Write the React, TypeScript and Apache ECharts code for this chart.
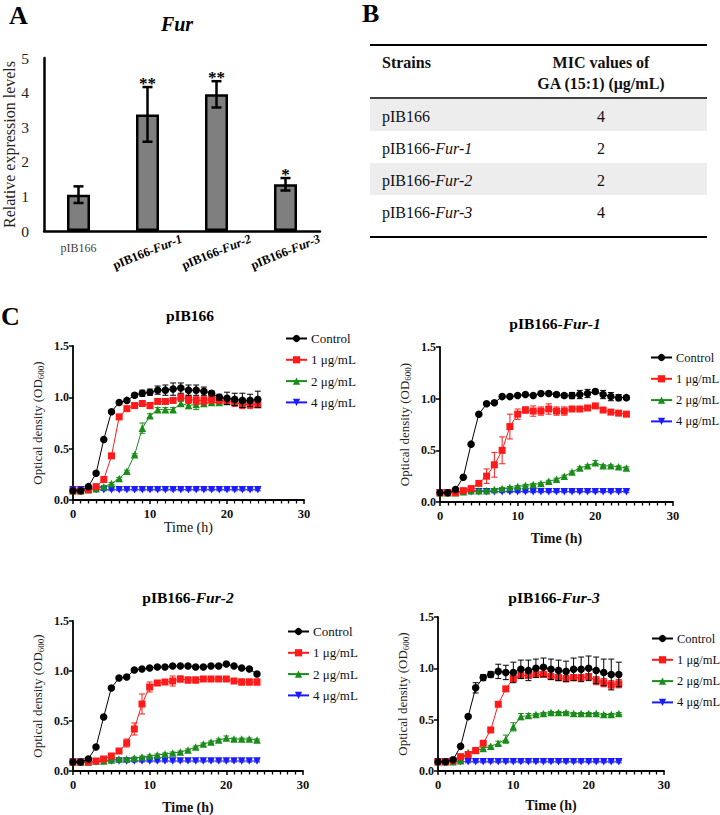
import React, { useEffect, useRef } from "react";
import * as echarts from "echarts";

// ---------------- Panel A data ----------------
const barCategories = ["pIB166", "pIB166-Fur-1", "pIB166-Fur-2", "pIB166-Fur-3"];
const barValues = [1.05, 3.37, 3.95, 1.35];
const barErrors = [0.24, 0.79, 0.38, 0.18];
const barStars = ["", "**", "**", "*"];
const barYTicks = [0, 5, 1];

// ---------------- Panel B data ----------------
const tableStrains = ["pIB166", "pIB166-Fur-1", "pIB166-Fur-2", "pIB166-Fur-3"];
const tableMIC = ["4", "2", "2", "4"];

// ---------------- Panel C data ----------------
const seriesNames = ["Control", "1 μg/mL", "2 μg/mL", "4 μg/mL"];
const time = [0, 1, 2, 3, 4, 5, 6, 7, 8, 9, 10, 11, 12, 13, 14, 15, 16, 17, 18, 19, 20, 21, 22, 23, 24];

const pIB166_ctrl = [0.09, 0.09, 0.13, 0.26, 0.59, 0.86, 0.95, 0.97, 1.02, 1.04, 1.05, 1.07, 1.07, 1.08, 1.09, 1.07, 1.07, 1.06, 1.04, 1.0, 0.99, 0.98, 0.97, 0.97, 0.98];
const pIB166_ctrlErr = [0.01, 0.01, 0.01, 0.01, 0.01, 0.01, 0.01, 0.01, 0.02, 0.03, 0.03, 0.04, 0.05, 0.06, 0.05, 0.05, 0.05, 0.04, 0.02, 0.03, 0.06, 0.06, 0.07, 0.06, 0.08];
const pIB166_1 = [0.09, 0.09, 0.1, 0.13, 0.2, 0.43, 0.81, 0.89, 0.92, 0.94, 0.92, 0.96, 0.96, 0.97, 1.0, 0.98, 0.97, 0.97, 0.98, 0.97, 0.96, 0.95, 0.93, 0.93, 0.93];
const pIB166_1Err = [0.01, 0.01, 0.01, 0.01, 0.01, 0.01, 0.01, 0.01, 0.02, 0.02, 0.03, 0.02, 0.02, 0.02, 0.03, 0.04, 0.04, 0.04, 0.04, 0.03, 0.03, 0.04, 0.04, 0.04, 0.03];
const pIB166_2 = [0.09, 0.09, 0.1, 0.11, 0.13, 0.16, 0.21, 0.28, 0.44, 0.7, 0.82, 0.88, 0.88, 0.88, 0.94, 0.92, 0.93, 0.94, 0.95, 0.95, 0.96, 0.96, 0.95, 0.94, 0.93];
const pIB166_2Err = [0.01, 0.01, 0.01, 0.01, 0.01, 0.01, 0.01, 0.01, 0.01, 0.05, 0.02, 0.02, 0.02, 0.02, 0.02, 0.03, 0.05, 0.03, 0.02, 0.02, 0.02, 0.02, 0.02, 0.02, 0.02];
const pIB166_4 = [0.1, 0.1, 0.1, 0.1, 0.1, 0.1, 0.1, 0.1, 0.1, 0.1, 0.1, 0.1, 0.1, 0.1, 0.1, 0.1, 0.1, 0.1, 0.1, 0.1, 0.1, 0.1, 0.1, 0.1, 0.1];
const pIB166_4Err = [0.01, 0.01, 0.01, 0.01, 0.01, 0.01, 0.01, 0.01, 0.01, 0.01, 0.01, 0.01, 0.01, 0.01, 0.01, 0.01, 0.01, 0.01, 0.01, 0.01, 0.01, 0.01, 0.01, 0.01, 0.01];

const fur1_ctrl = [0.09, 0.09, 0.12, 0.24, 0.56, 0.85, 0.95, 0.96, 1.02, 1.02, 1.03, 1.04, 1.03, 1.05, 1.05, 1.04, 1.03, 1.03, 1.04, 1.05, 1.07, 1.04, 1.02, 1.01, 1.01];
const fur1_ctrlErr = [0.01, 0.01, 0.01, 0.01, 0.01, 0.01, 0.01, 0.01, 0.01, 0.01, 0.01, 0.01, 0.01, 0.01, 0.01, 0.02, 0.02, 0.03, 0.04, 0.04, 0.02, 0.04, 0.04, 0.03, 0.02];
const fur1_1 = [0.09, 0.09, 0.09, 0.11, 0.13, 0.18, 0.25, 0.36, 0.5, 0.73, 0.85, 0.89, 0.88, 0.88, 0.9, 0.88, 0.88, 0.9, 0.9, 0.91, 0.93, 0.89, 0.87, 0.86, 0.85];
const fur1_1Err = [0.01, 0.01, 0.01, 0.01, 0.01, 0.01, 0.07, 0.12, 0.13, 0.12, 0.05, 0.03, 0.05, 0.04, 0.05, 0.04, 0.04, 0.01, 0.01, 0.01, 0.01, 0.01, 0.01, 0.01, 0.01];
const fur1_2 = [0.09, 0.09, 0.09, 0.1, 0.11, 0.11, 0.11, 0.12, 0.13, 0.14, 0.15, 0.16, 0.17, 0.18, 0.2, 0.22, 0.25, 0.29, 0.33, 0.35, 0.38, 0.35, 0.35, 0.34, 0.33];
const fur1_2Err = [0.01, 0.01, 0.01, 0.01, 0.01, 0.01, 0.01, 0.01, 0.01, 0.01, 0.01, 0.01, 0.01, 0.01, 0.01, 0.01, 0.01, 0.01, 0.01, 0.01, 0.02, 0.01, 0.01, 0.01, 0.01];
const fur1_4 = [0.09, 0.09, 0.1, 0.1, 0.1, 0.1, 0.1, 0.1, 0.1, 0.1, 0.1, 0.1, 0.1, 0.1, 0.1, 0.1, 0.1, 0.1, 0.1, 0.1, 0.1, 0.1, 0.1, 0.1, 0.1];
const fur1_4Err = [0.01, 0.01, 0.01, 0.01, 0.01, 0.01, 0.01, 0.01, 0.01, 0.01, 0.01, 0.01, 0.01, 0.01, 0.01, 0.01, 0.01, 0.01, 0.01, 0.01, 0.01, 0.01, 0.01, 0.01, 0.01];

const fur2_ctrl = [0.09, 0.09, 0.12, 0.24, 0.54, 0.83, 0.93, 0.94, 1.01, 1.02, 1.03, 1.04, 1.04, 1.05, 1.05, 1.05, 1.04, 1.04, 1.05, 1.05, 1.07, 1.05, 1.03, 1.02, 0.97];
const fur2_ctrlErr = [0.01, 0.01, 0.01, 0.01, 0.01, 0.01, 0.01, 0.01, 0.01, 0.01, 0.01, 0.01, 0.01, 0.01, 0.01, 0.01, 0.01, 0.01, 0.01, 0.01, 0.01, 0.01, 0.01, 0.01, 0.01];
const fur2_1 = [0.09, 0.09, 0.09, 0.1, 0.12, 0.15, 0.2, 0.28, 0.42, 0.67, 0.84, 0.88, 0.89, 0.9, 0.92, 0.91, 0.91, 0.92, 0.92, 0.92, 0.92, 0.9, 0.89, 0.89, 0.89];
const fur2_1Err = [0.01, 0.01, 0.01, 0.01, 0.01, 0.01, 0.01, 0.04, 0.06, 0.1, 0.05, 0.02, 0.02, 0.05, 0.03, 0.03, 0.03, 0.02, 0.02, 0.02, 0.02, 0.02, 0.03, 0.03, 0.03];
const fur2_2 = [0.09, 0.09, 0.09, 0.1, 0.1, 0.11, 0.12, 0.12, 0.13, 0.14, 0.15, 0.16, 0.17, 0.18, 0.19, 0.21, 0.24, 0.27, 0.29, 0.31, 0.33, 0.32, 0.32, 0.32, 0.31];
const fur2_2Err = [0.01, 0.01, 0.01, 0.01, 0.01, 0.01, 0.01, 0.01, 0.01, 0.01, 0.01, 0.01, 0.01, 0.01, 0.01, 0.01, 0.01, 0.01, 0.01, 0.01, 0.02, 0.01, 0.01, 0.01, 0.01];
const fur2_4 = [0.09, 0.09, 0.09, 0.09, 0.1, 0.1, 0.1, 0.1, 0.1, 0.1, 0.1, 0.1, 0.1, 0.1, 0.1, 0.1, 0.1, 0.1, 0.1, 0.1, 0.1, 0.1, 0.1, 0.1, 0.1];
const fur2_4Err = [0.01, 0.01, 0.01, 0.01, 0.01, 0.01, 0.01, 0.01, 0.01, 0.01, 0.01, 0.01, 0.01, 0.01, 0.01, 0.01, 0.01, 0.01, 0.01, 0.01, 0.01, 0.01, 0.01, 0.01, 0.01];

const fur3_ctrl = [0.09, 0.09, 0.11, 0.24, 0.53, 0.81, 0.91, 0.94, 0.97, 0.96, 0.96, 0.99, 0.98, 1.0, 1.01, 0.99, 0.98, 0.97, 0.99, 0.99, 1.0, 0.98, 0.96, 0.94, 0.94];
const fur3_ctrlErr = [0.01, 0.01, 0.01, 0.01, 0.01, 0.05, 0.03, 0.03, 0.07, 0.07, 0.1, 0.09, 0.1, 0.09, 0.09, 0.1, 0.1, 0.1, 0.11, 0.12, 0.12, 0.13, 0.13, 0.15, 0.12];
const fur3_1 = [0.09, 0.09, 0.1, 0.14, 0.16, 0.2, 0.27, 0.4, 0.65, 0.8, 0.9, 0.93, 0.93, 0.94, 0.94, 0.92, 0.91, 0.9, 0.91, 0.91, 0.92, 0.88, 0.86, 0.84, 0.85];
const fur3_1Err = [0.01, 0.01, 0.01, 0.01, 0.01, 0.01, 0.01, 0.01, 0.01, 0.02, 0.03, 0.02, 0.02, 0.02, 0.02, 0.02, 0.03, 0.03, 0.03, 0.03, 0.03, 0.04, 0.04, 0.04, 0.04];
const fur3_2 = [0.09, 0.09, 0.09, 0.1, 0.18, 0.2, 0.22, 0.24, 0.27, 0.31, 0.43, 0.53, 0.54, 0.55, 0.56, 0.57, 0.57, 0.57, 0.56, 0.56, 0.56, 0.56, 0.55, 0.55, 0.56];
const fur3_2Err = [0.01, 0.01, 0.01, 0.01, 0.01, 0.01, 0.01, 0.01, 0.02, 0.04, 0.04, 0.03, 0.02, 0.01, 0.01, 0.01, 0.01, 0.01, 0.01, 0.01, 0.01, 0.01, 0.01, 0.01, 0.01];
const fur3_4 = [0.09, 0.09, 0.09, 0.09, 0.09, 0.09, 0.09, 0.09, 0.09, 0.09, 0.09, 0.09, 0.09, 0.09, 0.09, 0.09, 0.09, 0.09, 0.09, 0.09, 0.09, 0.09, 0.09, 0.09, 0.09];
const fur3_4Err = [0.01, 0.01, 0.01, 0.01, 0.01, 0.01, 0.01, 0.01, 0.01, 0.01, 0.01, 0.01, 0.01, 0.01, 0.01, 0.01, 0.01, 0.01, 0.01, 0.01, 0.01, 0.01, 0.01, 0.01, 0.01];

const growthXTicks = [0, 30, 10];
const growthYTicks = [0, 1.5, 0.5];

// ---------------- styles / layout ----------------
const FF = "Liberation Serif";
const FONT = "Liberation Serif";
const COLORS = ["#000000", "#ff1a1a", "#1a8c1a", "#1a1aff"];
const SYMBOLS = ["circle", "rect", "triangle", "triangle"];
const SYMROT = [0, 0, 0, 180];
const SYMSIZE = [7.5, 7, 7.5, 7.5];

const panels = [
  {
    title: "{b|pIB166}",
    grid: { left: 73, top: 346, width: 231, height: 154 },
    titlePos: [190, 315],
    legend: { left: 285, top: 332, fontSize: 13 },
    xNameBold: false,
    xNameGap: 17,
    data: [
      [pIB166_ctrl, pIB166_ctrlErr],
      [pIB166_1, pIB166_1Err],
      [pIB166_2, pIB166_2Err],
      [pIB166_4, pIB166_4Err],
    ],
  },
  {
    title: "{b|pIB166-}{bi|Fur-1}",
    grid: { left: 440, top: 347, width: 233, height: 155 },
    titlePos: [555, 323],
    legend: { left: 650, top: 351, fontSize: 12.5 },
    xNameBold: true,
    xNameGap: 29,
    data: [
      [fur1_ctrl, fur1_ctrlErr],
      [fur1_1, fur1_1Err],
      [fur1_2, fur1_2Err],
      [fur1_4, fur1_4Err],
    ],
  },
  {
    title: "{b|pIB166-}{bi|Fur-2}",
    grid: { left: 73, top: 621, width: 230, height: 152 },
    titlePos: [188, 597],
    legend: { left: 287, top: 625, fontSize: 13 },
    xNameBold: true,
    xNameGap: 29,
    data: [
      [fur2_ctrl, fur2_ctrlErr],
      [fur2_1, fur2_1Err],
      [fur2_2, fur2_2Err],
      [fur2_4, fur2_4Err],
    ],
  },
  {
    title: "{b|pIB166-}{bi|Fur-3}",
    grid: { left: 438, top: 617, width: 226, height: 154 },
    titlePos: [554, 597],
    legend: { left: 651, top: 632, fontSize: 12.5 },
    xNameBold: true,
    xNameGap: 27,
    data: [
      [fur3_ctrl, fur3_ctrlErr],
      [fur3_1, fur3_1Err],
      [fur3_2, fur3_2Err],
      [fur3_4, fur3_4Err],
    ],
  },
];

function errorBarRender(capHalf: number, lw: number, color: string, stars?: string[]) {
  return (params: any, api: any) => {
    const x = api.value(0);
    const y = api.value(1);
    const e = api.value(2);
    const top = api.coord([x, y + e]);
    const bot = api.coord([x, y - e]);
    const st = { stroke: color, lineWidth: lw };
    const children: any[] = [
      { type: "line", shape: { x1: top[0], y1: top[1], x2: bot[0], y2: bot[1] }, style: st },
      { type: "line", shape: { x1: top[0] - capHalf, y1: top[1], x2: top[0] + capHalf, y2: top[1] }, style: st },
      { type: "line", shape: { x1: bot[0] - capHalf, y1: bot[1], x2: bot[0] + capHalf, y2: bot[1] }, style: st },
    ];
    if (stars && stars[params.dataIndex]) {
      children.push({
        type: "text",
        style: {
          text: stars[params.dataIndex],
          x: top[0],
          y: top[1] - 4,
          align: "center",
          verticalAlign: "middle",
          textAlign: "center",
          textVerticalAlign: "middle",
          font: `bold 17px ${FONT}`,
          fill: "#000",
        },
      });
    }
    return { type: "group", children };
  };
}

function buildOption() {
  const grid: any[] = [{ left: 44, top: 58, width: 276, height: 173 }];
  const xAxis: any[] = [
    {
      type: "category",
      gridIndex: 0,
      data: barCategories,
      axisLine: { lineStyle: { color: "#000", width: 2.5 } },
      axisTick: { show: false },
      axisLabel: {
        margin: 11,
        fontFamily: FF,
        fontSize: 12,
        color: "#404040",
        formatter: (v: string, i: number) => (i === 0 ? v : ""),
      },
    },
    {
      type: "category",
      gridIndex: 0,
      position: "bottom",
      data: barCategories,
      axisLine: { show: false },
      axisTick: { show: false },
      axisLabel: {
        margin: 21,
        rotate: 22,
        align: "center",
        verticalAlign: "middle",
        interval: 0,
        formatter: (v: string, i: number) => {
          if (i === 0) return "";
          const parts = v.split("-");
          return `{b|${parts[0]}-}{bi|${parts.slice(1).join("-")}}`;
        },
        rich: {
          b: { fontFamily: FF, fontSize: 12.5, fontWeight: "bold", color: "#000" },
          bi: { fontFamily: FF, fontSize: 12.5, fontWeight: "bold", fontStyle: "italic", color: "#000" },
        },
      },
    },
  ];
  const yAxis: any[] = [
    {
      type: "value",
      gridIndex: 0,
      min: barYTicks[0],
      max: barYTicks[1],
      interval: barYTicks[2],
      name: "Relative expression levels",
      nameLocation: "middle",
      nameGap: 25,
      nameTextStyle: { fontFamily: FF, fontSize: 16, color: "#222" },
      axisLine: { show: true, lineStyle: { color: "#000", width: 2.5 } },
      axisTick: { show: false },
      splitLine: { show: false },
      axisLabel: { margin: 15, fontFamily: FF, fontSize: 15.5, color: "#222" },
    },
  ];
  const series: any[] = [
    {
      type: "bar",
      xAxisIndex: 0,
      yAxisIndex: 0,
      data: barValues,
      barWidth: 23,
      silent: true,
      itemStyle: { color: "#7f7f7f", borderColor: "#000", borderWidth: 2.5 },
      z: 2,
    },
    {
      type: "custom",
      xAxisIndex: 0,
      yAxisIndex: 0,
      silent: true,
      z: 5,
      data: barValues.map((v, i) => [i, v, barErrors[i]]),
      renderItem: errorBarRender(5, 2.5, "#000", barStars),
    },
  ];
  const legend: any[] = [];
  const graphic: any[] = [];

  panels.forEach((p, pi) => {
    const gi = pi + 1;
    grid.push(p.grid);
    xAxis.push({
      type: "value",
      gridIndex: gi,
      min: growthXTicks[0],
      max: growthXTicks[1],
      interval: growthXTicks[2],
      name: "Time (h)",
      nameLocation: "middle",
      nameGap: p.xNameGap,
      nameTextStyle: {
        fontFamily: FF,
        fontSize: 14,
        fontWeight: p.xNameBold ? "bold" : "normal",
        color: "#111",
      },
      axisLine: { show: true, onZero: false, lineStyle: { color: "#000", width: 1.8 } },
      axisTick: { show: true, length: 4, lineStyle: { color: "#000", width: 1.5 } },
      minorTick: { show: true, splitNumber: 10, length: 3.5, lineStyle: { color: "#000", width: 1.3 } },
      splitLine: { show: false },
      axisLabel: { margin: 7, fontFamily: FF, fontSize: 12.5, fontWeight: "bold", color: "#111" },
    });
    yAxis.push({
      type: "value",
      gridIndex: gi,
      min: growthYTicks[0],
      max: growthYTicks[1],
      interval: growthYTicks[2],
      name: "Optical density (OD{s|600})",
      nameLocation: "middle",
      nameGap: 28,
      nameTextStyle: {
        fontFamily: FF,
        fontSize: 13,
        color: "#222",
        lineHeight: 16,
        rich: {
          s: { fontFamily: FF, fontSize: 9, lineHeight: 8, verticalAlign: "bottom", color: "#222" },
        },
      },
      axisLine: { show: true, onZero: false, lineStyle: { color: "#000", width: 1.8 } },
      axisTick: { show: true, length: 4, lineStyle: { color: "#000", width: 1.5 } },
      splitLine: { show: false },
      axisLabel: {
        margin: 4,
        fontFamily: FF,
        fontSize: 12,
        fontWeight: "bold",
        color: "#111",
        formatter: (v: number) => v.toFixed(1),
      },
    });
    const axIdx = pi + 2;
    const yIdx = pi + 1;
    // draw order: 4, 2, 1, Control (control on top)
    [3, 2, 1, 0].forEach((si) => {
      const [vals, errs] = p.data[si];
      series.push({
        type: "custom",
        xAxisIndex: axIdx,
        yAxisIndex: yIdx,
        silent: true,
        z: 2 + (3 - si) * 2,
        data: time.map((t, i) => [t, vals[i], errs[i]]),
        renderItem: errorBarRender(3, 1, COLORS[si]),
      });
      series.push({
        type: "line",
        name: seriesNames[si],
        xAxisIndex: axIdx,
        yAxisIndex: yIdx,
        data: time.map((t, i) => [t, vals[i]]),
        symbol: SYMBOLS[si],
        symbolRotate: SYMROT[si],
        symbolSize: SYMSIZE[si],
        showSymbol: true,
        silent: true,
        z: 3 + (3 - si) * 2,
        lineStyle: { color: COLORS[si], width: 1 },
        itemStyle: { color: COLORS[si] },
        emphasis: { disabled: true },
      });
    });
    legend.push({
      orient: "vertical",
      left: p.legend.left,
      top: p.legend.top,
      padding: 0,
      itemWidth: 21,
      itemHeight: 9,
      itemGap: 8.3,
      selectedMode: false,
      data: seriesNames,
      textStyle: { fontFamily: FF, fontSize: p.legend.fontSize, color: "#111", padding: [0, 0, 0, -1] },
    });
    graphic.push({
      type: "text",
      x: p.titlePos[0],
      y: p.titlePos[1],
      style: {
        text: p.title,
        align: "center",
        verticalAlign: "middle",
        textAlign: "center",
        textVerticalAlign: "middle",
        rich: {
          b: { fontFamily: FF, fontSize: 15.5, fontWeight: "bold", fill: "#000" },
          bi: { fontFamily: FF, fontSize: 15.5, fontWeight: "bold", fontStyle: "italic", fill: "#000" },
        },
      },
    });
  });

  // Panel letters and A title
  const letter = (t: string, x: number, y: number) => ({
    type: "text",
    x,
    y,
    style: { text: t, font: `bold 26px ${FONT}`, fill: "#000", align: "left", verticalAlign: "top" },
  });
  graphic.push(letter("A", 9, 2));
  graphic.push(letter("B", 362, 0));
  graphic.push(letter("C", 1, 303));
  graphic.push({
    type: "text",
    x: 177,
    y: 24,
    style: {
      text: "Fur",
      font: `italic bold 20px ${FONT}`,
      fill: "#000",
      align: "center",
      verticalAlign: "middle",
    },
  });

  // Panel B table
  const tl = 370;
  const tr = 707;
  const rowTop = [99, 131, 163, 195];
  const rowH = 32;
  rowTop.forEach((y, i) => {
    if (i % 2 === 0) {
      graphic.push({ type: "rect", shape: { x: tl, y, width: tr - tl, height: rowH }, style: { fill: "#ededed" } });
    }
  });
  graphic.push({ type: "line", shape: { x1: tl, y1: 45, x2: tr, y2: 45 }, style: { stroke: "#000", lineWidth: 2.2 } });
  graphic.push({ type: "line", shape: { x1: tl, y1: 98, x2: tr, y2: 98 }, style: { stroke: "#000", lineWidth: 1.6 } });
  graphic.push({ type: "line", shape: { x1: tl, y1: 237, x2: tr, y2: 237 }, style: { stroke: "#000", lineWidth: 2.2 } });
  const hdr = (t: string, x: number, y: number, align: string) => ({
    type: "text",
    x,
    y,
    style: { text: t, font: `bold 16px ${FONT}`, fill: "#111", align, verticalAlign: "middle" },
  });
  graphic.push(hdr("Strains", 382, 62, "left"));
  graphic.push(hdr("MIC values of", 601, 62, "center"));
  graphic.push(hdr("GA (15:1) (μg/mL)", 601, 83, "center"));
  tableStrains.forEach((s, i) => {
    const y = rowTop[i] + rowH / 2 + 1;
    const parts = s.split("-");
    const txt = parts.length > 1 ? `{n|${parts[0]}-}{i|${parts.slice(1).join("-")}}` : `{n|${s}}`;
    graphic.push({
      type: "text",
      x: 382,
      y,
      style: {
        text: txt,
        align: "left",
        verticalAlign: "middle",
        rich: {
          n: { fontFamily: FF, fontSize: 16, fill: "#111" },
          i: { fontFamily: FF, fontSize: 16, fontStyle: "italic", fill: "#111" },
        },
      },
    });
    graphic.push({
      type: "text",
      x: 601,
      y,
      style: { text: tableMIC[i], font: `16px ${FONT}`, fill: "#111", align: "center", verticalAlign: "middle" },
    });
  });

  return {
    animation: false,
    backgroundColor: "#ffffff",
    grid,
    xAxis,
    yAxis,
    legend,
    series,
    graphic,
  };
}

export default function App() {
  const ref = useRef<HTMLDivElement>(null);
  useEffect(() => {
    if (!ref.current) return;
    const chart = echarts.init(ref.current, undefined, { renderer: "svg" });
    chart.setOption(buildOption() as any);
    return () => chart.dispose();
  }, []);
  return (
    <div
      ref={ref}
      style={{ position: "absolute", left: 0, top: 0, width: 720, height: 815, background: "#fff" }}
    />
  );
}
